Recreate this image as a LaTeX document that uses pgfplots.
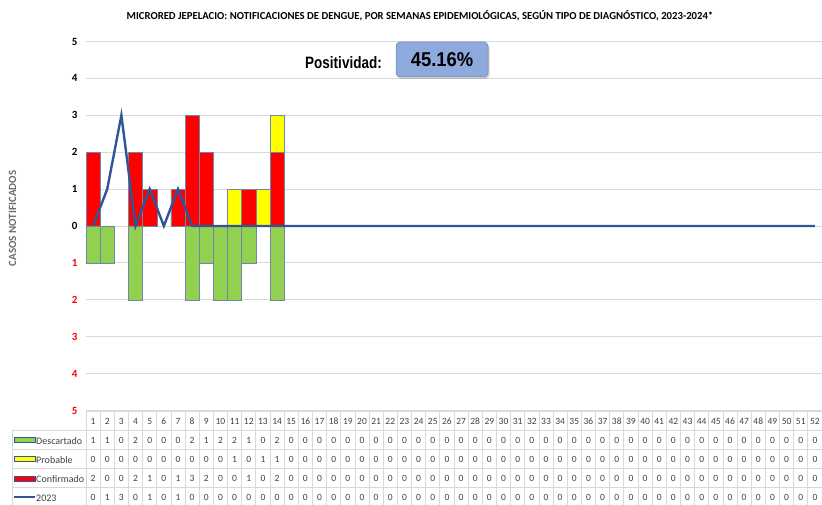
\documentclass[border=0pt]{standalone}
\usepackage{fontspec}
\setmainfont{Carlito}
\newfontfamily\arialf{Liberation Sans}
\usepackage{pgfplots}
\pgfplotsset{compat=1.18}
\usepackage{pgfplotstable}
\usetikzlibrary{shadows}
\definecolor{cRed}{HTML}{FF0000}
\definecolor{cYel}{HTML}{FFFF00}
\definecolor{cGrn}{HTML}{92D050}
\definecolor{cLine}{HTML}{2F5597}
\definecolor{cEdge}{HTML}{6F87AB}
\definecolor{cGrid}{HTML}{D9D9D9}
\definecolor{cBox}{HTML}{8EA9DB}
\definecolor{cTxt}{HTML}{404040}

\pgfplotstableread{
w d p c y
1 1 0 2 0
2 1 0 0 1
3 0 0 0 3
4 2 0 2 0
5 0 0 1 1
6 0 0 0 0
7 0 0 1 1
8 2 0 3 0
9 1 0 2 0
10 2 0 0 0
11 2 1 0 0
12 1 0 1 0
13 0 1 0 0
14 2 1 2 0
15 0 0 0 0
16 0 0 0 0
17 0 0 0 0
18 0 0 0 0
19 0 0 0 0
20 0 0 0 0
21 0 0 0 0
22 0 0 0 0
23 0 0 0 0
24 0 0 0 0
25 0 0 0 0
26 0 0 0 0
27 0 0 0 0
28 0 0 0 0
29 0 0 0 0
30 0 0 0 0
31 0 0 0 0
32 0 0 0 0
33 0 0 0 0
34 0 0 0 0
35 0 0 0 0
36 0 0 0 0
37 0 0 0 0
38 0 0 0 0
39 0 0 0 0
40 0 0 0 0
41 0 0 0 0
42 0 0 0 0
43 0 0 0 0
44 0 0 0 0
45 0 0 0 0
46 0 0 0 0
47 0 0 0 0
48 0 0 0 0
49 0 0 0 0
50 0 0 0 0
51 0 0 0 0
52 0 0 0 0
}\data

\begin{document}
\begin{tikzpicture}[x=1pt,y=1pt]
\path[use as bounding box] (0,0) rectangle (822,505);

% ---------- main chart ----------
\begin{axis}[
  at={(86pt,94.5pt)}, anchor=south west,
  scale only axis, width=736pt, height=369pt,
  xmin=0.5, xmax=52.5, ymin=-5, ymax=5,
  axis line style={draw=none},
  xtick=\empty,
  ytick={-5,...,5},
  yticklabels={{\color{red}5},{\color{red}4},{\color{red}3},{\color{red}2},{\color{red}1},0,1,2,3,4,5},
  yticklabel style={font=\bfseries\fontsize{11}{13}\selectfont, xshift=-5pt},
  major tick length=0pt,
  ymajorgrids, grid style={cGrid, line width=0.8pt},
  clip=false,
]
\addplot[ybar, bar width=1, bar shift=0pt, fill=cYel, draw=cEdge, line width=0.5pt,
  y filter/.expression={y==0 ? nan : y}]
  table[x=w, y expr=\thisrow{c}+\thisrow{p}] {\data};
\addplot[ybar, bar width=1, bar shift=0pt, fill=cRed, draw=cEdge, line width=0.5pt,
  y filter/.expression={y==0 ? nan : y}]
  table[x=w, y=c] {\data};
\addplot[ybar, bar width=1, bar shift=0pt, fill=cGrn, draw=cEdge, line width=0.5pt,
  y filter/.expression={y==0 ? nan : y}]
  table[x=w, y expr=-\thisrow{d}] {\data};
\addplot[cLine, line width=2.4pt, mark=none] table[x=w, y=y] {\data};
\end{axis}

% ---------- data table ----------
\begin{axis}[
  at={(86pt,-2pt)}, anchor=south west,
  scale only axis, width=736pt, height=95.5pt,
  xmin=0.5, xmax=52.5, ymin=0, ymax=5,
  axis line style={draw=none},
  xtick={0.5,1.5,...,52.5}, ytick={0,...,5},
  xticklabels={}, yticklabels={},
  major tick length=0pt,
  xmajorgrids, ymajorgrids, grid style={cGrid, line width=0.8pt},
  clip=false,
  nodes near coords, point meta=explicit symbolic,
  every node near coord/.append style={anchor=center, inner sep=0pt, font=\fontsize{9.5}{11}\selectfont, text=cTxt},
]
\addplot[draw=none, mark=none] table[x=w, y expr=4.5, meta=w] {\data};
\addplot[draw=none, mark=none] table[x=w, y expr=3.5, meta=d] {\data};
\addplot[draw=none, mark=none] table[x=w, y expr=2.5, meta=p] {\data};
\addplot[draw=none, mark=none] table[x=w, y expr=1.5, meta=c] {\data};
\addplot[draw=none, mark=none] table[x=w, y expr=0.5, meta=y] {\data};
% left column borders
\draw[cGrid, line width=0.8pt] (axis cs:-4.73,0) -- (axis cs:0.5,0);
\draw[cGrid, line width=0.8pt] (axis cs:-4.73,1) -- (axis cs:0.5,1);
\draw[cGrid, line width=0.8pt] (axis cs:-4.73,2) -- (axis cs:0.5,2);
\draw[cGrid, line width=0.8pt] (axis cs:-4.73,3) -- (axis cs:0.5,3);
\draw[cGrid, line width=0.8pt] (axis cs:-4.73,4) -- (axis cs:0.5,4);
\draw[cGrid, line width=0.8pt] (axis cs:-4.73,0) -- (axis cs:-4.73,4);
% legend keys
\draw[fill=cGrn, draw=cLine, line width=0.6pt] (axis cs:-4.59,3.37) rectangle (axis cs:-3.10,3.63);
\draw[fill=cYel, draw=cLine, line width=0.6pt] (axis cs:-4.59,2.37) rectangle (axis cs:-3.10,2.63);
\draw[fill=cRed, draw=cLine, line width=0.6pt] (axis cs:-4.59,1.37) rectangle (axis cs:-3.10,1.63);
\draw[cLine, line width=2pt] (axis cs:-4.59,0.5) -- (axis cs:-3.10,0.5);
\node[anchor=west, inner sep=0pt, font=\fontsize{10}{12}\selectfont, text=cTxt] at (axis cs:-3.03,3.45) {Descartado};
\node[anchor=west, inner sep=0pt, font=\fontsize{10}{12}\selectfont, text=cTxt] at (axis cs:-3.03,2.45) {Probable};
\node[anchor=west, inner sep=0pt, font=\fontsize{10}{12}\selectfont, text=cTxt] at (axis cs:-3.03,1.45) {Confirmado};
\node[anchor=west, inner sep=0pt, font=\fontsize{10}{12}\selectfont, text=cTxt] at (axis cs:-3.03,0.45) {2023};
\end{axis}

% ---------- texts ----------
\node[font=\bfseries\fontsize{10.7}{12}\selectfont] at (420,489)
  {MICRORED JEPELACIO: NOTIFICACIONES DE DENGUE, POR SEMANAS EPIDEMIOLÓGICAS, SEGÚN TIPO DE DIAGNÓSTICO, 2023-2024*};
\node[rotate=90, font=\bfseries\fontsize{11}{13}\selectfont, text=gray!85!black] at (12.5,286.5) {CASOS NOTIFICADOS};
\node[inner sep=0pt] at (343.5,442) {\scalebox{0.82}[1]{\arialf\bfseries\fontsize{16.5}{18}\selectfont Positividad:}};
\node[fill=cBox, draw=cBox!80!black, line width=0.5pt, rounded corners=4pt,
      minimum width=92pt, minimum height=35pt, inner sep=0pt,
      drop shadow={shadow xshift=1.5pt, shadow yshift=-2pt, opacity=0.35}]
  at (442,445.5) {\scalebox{0.92}[1]{\arialf\bfseries\fontsize{20}{22}\selectfont 45.16\%}};
\end{tikzpicture}
\end{document}
